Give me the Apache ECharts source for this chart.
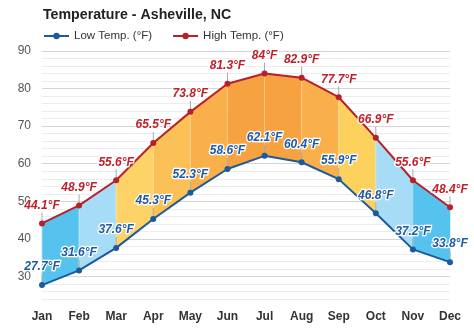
<!DOCTYPE html>
<html>
<head>
<meta charset="utf-8">
<script src="https://cdn.jsdelivr.net/npm/echarts@6/dist/echarts.min.js"></script>
<style>
html,body{margin:0;padding:0;background:#fff;}
#chart{width:474px;height:331px;}
</style>
</head>
<body>
<div id="chart"></div>
<script>
const months = ['Jan','Feb','Mar','Apr','May','Jun','Jul','Aug','Sep','Oct','Nov','Dec'];
const lowTemps = [27.7, 31.6, 37.6, 45.3, 52.3, 58.6, 62.1, 60.4, 55.9, 46.8, 37.2, 33.8];
const highTemps = [44.1, 48.9, 55.6, 65.5, 73.8, 81.3, 84, 82.9, 77.7, 66.9, 55.6, 48.4];
const bandColors = ['#55c3ee','#a6dcf6','#fdd266','#fbc156','#f9b04a','#f6a241','#f6a241','#f9b04a','#fdd15e','#a6dcf6','#55c3ee'];

const bandData = lowTemps.slice(0, -1).map((l, i) => [i, l, highTemps[i], lowTemps[i + 1], highTemps[i + 1]]);
const leaderData = lowTemps.map((l, i) => [i, l]).concat(highTemps.map((h, i) => [i, h]));

const chart = echarts.init(document.getElementById('chart'), null, {renderer: 'canvas'});
const font = 'Arial, "Liberation Sans", sans-serif';
const labelStyle = (color) => ({
  show: true,
  position: 'top',
  distance: 9,
  formatter: p => p.value + '°F',
  color: color,
  fontFamily: font,
  fontSize: 12,
  fontWeight: 'bold',
  fontStyle: 'italic',
  textBorderColor: '#fff',
  textBorderWidth: 2.5
});

chart.setOption({
  animation: false,
  backgroundColor: '#fff',
  title: {
    text: 'Temperature - Asheville, NC',
    left: 43, top: 8, padding: 0,
    textStyle: {fontFamily: font, fontSize: 14.2, fontWeight: 'bold', color: '#222'}
  },
  legend: {
    left: 43, top: 30, padding: 0,
    itemWidth: 25, itemHeight: 8, itemGap: 20,
    data: ['Low Temp. (°F)', 'High Temp. (°F)'],
    textStyle: {fontFamily: font, fontSize: 11.5, color: '#333'}
  },
  grid: {left: 42, right: 24, top: 51, bottom: 32},
  xAxis: {
    type: 'category',
    data: months,
    boundaryGap: false,
    axisLine: {show: false},
    axisTick: {show: false},
    axisLabel: {fontFamily: font, fontSize: 12, fontWeight: 'bold', color: '#333', margin: 12},
    splitLine: {show: false}
  },
  yAxis: {
    type: 'value',
    min: 24, max: 90, interval: 2,
    axisLine: {show: false},
    axisTick: {show: false},
    axisLabel: {
      fontFamily: font, fontSize: 12, color: '#555', margin: 11,
      formatter: v => (v % 10 === 0 ? String(v) : '')
    },
    splitLine: {lineStyle: {color: ['#ececec','#ececec','#ececec','#d4d4d4','#ececec'], width: 1}}
  },
  series: [
    {
      type: 'custom',
      name: 'bands',
      data: bandData,
      encode: {x: 0, y: [1, 2, 3, 4]},
      z: 1,
      silent: true,
      renderItem: (params, api) => {
        const i = api.value(0);
        const a = api.coord([i, api.value(1)]);
        const b = api.coord([i, api.value(2)]);
        const c = api.coord([i + 1, api.value(4)]);
        const d = api.coord([i + 1, api.value(3)]);
        return {
          type: 'group',
          children: [
            {type: 'polygon', shape: {points: [a, b, c, d]}, style: {fill: bandColors[params.dataIndex], stroke: bandColors[params.dataIndex], lineWidth: 0.5}},
            {type: 'line', shape: {x1: a[0], y1: a[1], x2: b[0], y2: b[1]}, style: {stroke: 'rgba(255,255,255,0.35)', lineWidth: 1}}
          ]
        };
      }
    },
    {
      type: 'custom',
      name: 'leaders',
      data: leaderData,
      encode: {x: 0, y: 1},
      z: 2,
      silent: true,
      renderItem: (params, api) => {
        const p = api.coord([api.value(0), api.value(1)]);
        return {type: 'line', shape: {x1: p[0], y1: p[1], x2: p[0], y2: p[1] - 11}, style: {stroke: '#aaa', lineWidth: 1}};
      }
    },
    {
      type: 'line',
      name: 'Low Temp. (°F)',
      data: lowTemps,
      z: 3,
      color: '#1c5a9c',
      symbol: 'circle',
      symbolSize: 6,
      lineStyle: {width: 2, color: '#1c5a9c'},
      itemStyle: {color: '#1c5a9c'},
      label: labelStyle('#1f5aa6')
    },
    {
      type: 'line',
      name: 'High Temp. (°F)',
      data: highTemps,
      z: 3,
      color: '#b8202a',
      symbol: 'circle',
      symbolSize: 6,
      lineStyle: {width: 2, color: '#b8202a'},
      itemStyle: {color: '#b8202a'},
      label: labelStyle('#c0202a')
    }
  ]
});
</script>
</body>
</html>
